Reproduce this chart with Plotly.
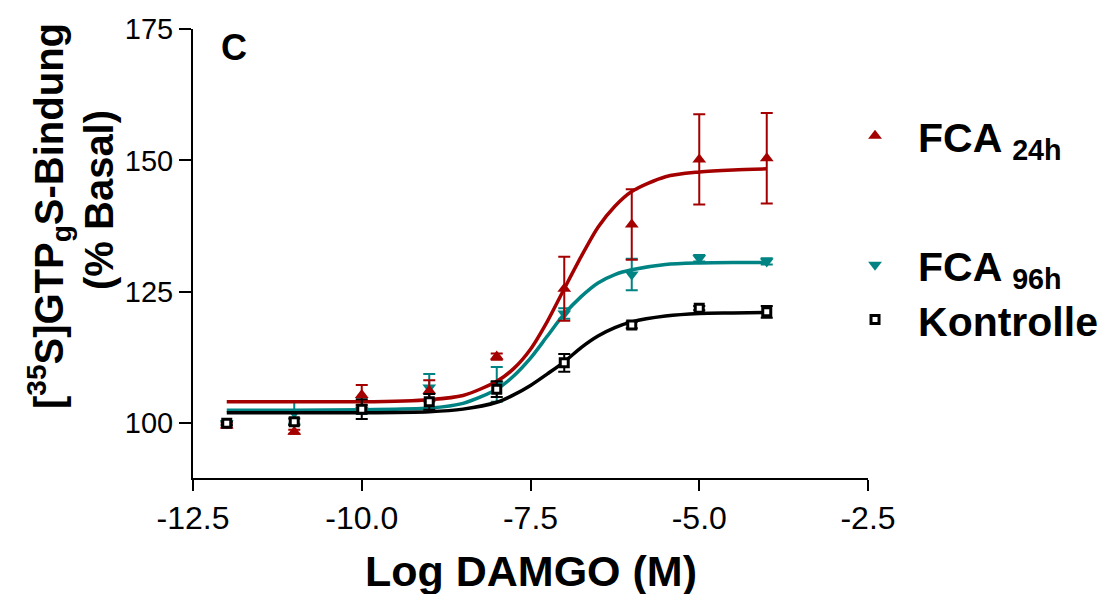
import plotly.graph_objects as go

# ---- data ----
log_damgo = [-12, -11, -10, -9, -8, -7, -6, -5, -4]

fca24_mean = [99.6, 98.4, 105.4, 106.2, 112.7, 125.6, 137.8, 150.2, 150.4]
fca24_sem = [0.4, 0.4, 1.9, 2.0, 0.6, 6.1, 6.7, 8.6, 8.6]

fca96_mean = [100.0, 102.0, 102.6, 106.8, 107.4, 120.9, 128.3, 131.4, 130.8]
fca96_sem = [0.4, 2.1, 0.8, 2.6, 3.3, 1.0, 3.0, 0.6, 0.6]

kontrolle_mean = [100.0, 100.3, 102.7, 104.1, 106.5, 111.5, 118.7, 121.9, 121.2]
kontrolle_sem = [0.3, 0.6, 1.9, 1.5, 1.5, 1.7, 0.6, 0.4, 1.1]

# fitted curves
fit_x = [-12, -11, -10, -9, -8.5, -8, -7.75, -7.5, -7.25, -7, -6.75, -6.5,
         -6.25, -6, -5.5, -5, -4.5, -4]
fit_fca24 = [104.1, 104.1, 104.1, 104.5, 105.3, 108.0, 110.4, 114.1, 119.4,
             125.6, 131.7, 137.3, 141.3, 144.1, 146.9, 147.8, 148.2, 148.4]
fit_fca96 = [102.5, 102.5, 102.6, 102.9, 103.8, 106.5, 109.0, 112.4, 116.6,
             120.8, 124.1, 126.7, 128.3, 129.2, 130.2, 130.5, 130.6, 130.6]
fit_kontrolle = [102.0, 102.0, 102.0, 102.2, 102.7, 104.0, 105.4, 107.2, 109.4,
                 111.7, 114.4, 116.6, 118.2, 119.3, 120.4, 120.9, 121.0, 121.1]

x_ticks = [-12.5, -10.0, -7.5, -5.0, -2.5]
x_tick_labels = ["-12.5", "-10.0", "-7.5", "-5.0", "-2.5"]
y_ticks = [100, 125, 150, 175]
y_tick_labels = ["100", "125", "150", "175"]

RED = "#A50000"
TEAL = "#008383"
BLACK = "#000000"
FONT = "Liberation Sans, Arial, sans-serif"

fig = go.Figure()

series = [
    ("FCA <sub>24h</sub>", fca24_mean, fca24_sem, fit_fca24, RED,
     dict(symbol="triangle-up", size=12, color=RED), "legend"),
    ("FCA <sub>96h</sub>", fca96_mean, fca96_sem, fit_fca96, TEAL,
     dict(symbol="triangle-down", size=12, color=TEAL), "legend2"),
    ("Kontrolle", kontrolle_mean, kontrolle_sem, fit_kontrolle, BLACK,
     dict(symbol="square", size=8, color="white", line=dict(color=BLACK, width=3)), "legend3"),
]

draw_order = [1, 0, 2]
for i in draw_order:
    name, mean, sem, fit, col, mk, lg = series[i]
    fig.add_trace(go.Scatter(
        x=fit_x, y=fit, mode="lines", line=dict(color=col, width=3.5, shape="spline", smoothing=0.8),
        showlegend=False, hoverinfo="skip"))
    fig.add_trace(go.Scatter(
        x=log_damgo, y=mean, mode="markers", marker=mk, name="<b>" + name + "</b>",
        error_y=dict(type="data", array=sem, visible=True, color=col, thickness=2, width=6),
        legend=lg, showlegend=True))

leg_common = dict(xanchor="left", yanchor="middle", itemwidth=76,
                  bgcolor="rgba(0,0,0,0)", borderwidth=0,
                  font=dict(size=41, family=FONT, color="black"))

fig.update_layout(
    width=1107, height=594,
    margin=dict(l=193, r=239, t=29, b=116, autoexpand=False),
    plot_bgcolor="white", paper_bgcolor="white",
    font=dict(family=FONT, color="black"),
    xaxis=dict(range=[-12.5, -2.5], tickmode="array", tickvals=x_ticks, ticktext=x_tick_labels,
               showline=True, linecolor="black", linewidth=2, ticks="outside", ticklen=11,
               tickwidth=2, tickcolor="black", showgrid=False, zeroline=False,
               ticklabelstandoff=0,
               tickfont=dict(size=32, family=FONT)),
    yaxis=dict(range=[89.6, 175], tickmode="array", tickvals=y_ticks, ticktext=y_tick_labels,
               showline=True, linecolor="black", linewidth=2, ticks="outside", ticklen=12,
               tickwidth=2, tickcolor="black", showgrid=False, zeroline=False,
               tickfont=dict(size=29, family=FONT)),
    legend=dict(x=0.9467, y=0.7617, **leg_common),
    legend2=dict(x=0.9467, y=0.474, **leg_common),
    legend3=dict(x=0.9467, y=0.352, **leg_common),
    annotations=[
        dict(text="<b>C</b>", x=0.0607, y=0.9577, xref="paper", yref="paper",
             showarrow=False, xanchor="center", yanchor="middle", font=dict(size=36)),
        dict(text="<b>Log DAMGO (M)</b>", x=0.5, y=(478 - 571) / 449, xref="paper", yref="paper",
             showarrow=False, xanchor="center", yanchor="middle", font=dict(size=43)),
        dict(text="<b>[<sup>35</sup>S]GTP<sub>g</sub>S-Bindung</b>", x=(49 - 193) / 675,
             y=(478 - 216) / 449, xref="paper", yref="paper", textangle=-90,
             showarrow=False, xanchor="center", yanchor="middle", font=dict(size=40)),
        dict(text="<b>(% Basal)</b>", x=(99 - 193) / 675,
             y=(478 - 200) / 449, xref="paper", yref="paper", textangle=-90,
             showarrow=False, xanchor="center", yanchor="middle", font=dict(size=40)),
    ],
)

fig.write_html("out.html")
